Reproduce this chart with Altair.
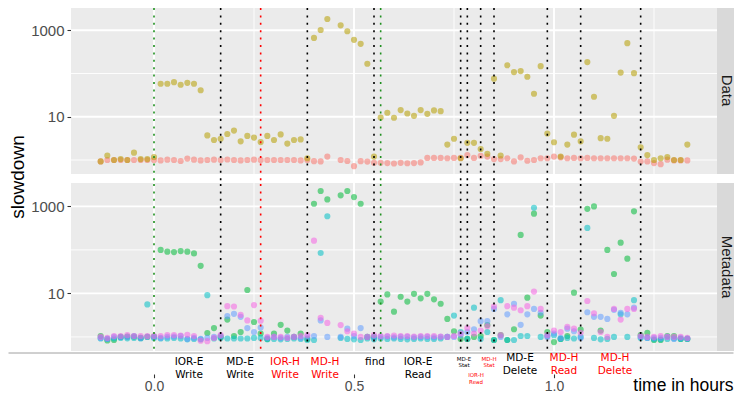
import altair as alt
import pandas as pd

# ---------------- data ----------------
minutes = list(range(-8, 81))  # one sample per minute

data_read = [0.93, 1.0, 1.0, 1.0, 1.0, 1.0, 1.0, 1.0, 1.0,
             0.98, 1.02, 1.0, 0.95, 1.08, 1.02, 0.98, 1.0, 1.02, 1.0,
             1.03, 1.0, 0.98, 1.0, 1.02, 1.0, 1.0, 1.0, 1.0, 1.0,
             1.0, 0.98, 1.0, 0.94, 0.93, 1.2, None, 1.0, 0.95, 0.72,
             0.94, 0.92, 0.86, 0.86, 0.85, 0.83, 0.86, 0.84, 0.85, 0.88,
             1.12, 1.12, 1.12, 1.1, 1.12, 1.12, 1.3, 1.12, 1.25, 1.2,
             1.05, 1.05, 1.1, 0.93, 1.15, 0.96, 1.0, 1.1, 1.1, 1.2,
             1.15, 1.1, 1.12, 1.1, 1.12, 1.1, 1.1, 1.1, 1.1, 1.1,
             1.1, 1.08, 0.92, 0.93, 0.85, 0.8, 1.02, 0.98, 0.98, 0.98]

data_write = [0.93, 1.27, 1.0, 1.05, 1.0, 1.48, 1.05, 1.05, 1.17,
              58, 58, 63, 55, 61, 58, 41, 3.7, 2.9, 3.1,
              4.0, 4.8, 2.7, 3.6, 3.3, 2.6, 3.6, 2.9, 3.9, 2.4,
              2.9, 3.0, 1.1, 665, 1015, 1820, None, 1300, 950, 600,
              485, 168, 1.2, 9.6, 12.4, 9.5, 14.3, 11.9, 10.5, 14.3,
              11.7, 14.0, 13.5, 2.27, 3.1, 1.1, 2.5, 2.5, 1.8, 1.39,
              76, 1.27, 155, 108, 114, 84, 34, 148, 4.1, 2.57,
              1.2, 2.27, 3.85, 2.7, 184, 29, 3.2, 3.1, 10.5, 105,
              502, 102, 1.97, 1.3, 1.0, 1.1, 1.17, 1.0, 1.0, 2.27]

md_create = [1.05, 0.83, 0.85, 1.0, 1.02, 1.02, 0.95, 1.0, 1.02,
             100, 91, 89, 94, 91, 83, 43, 1.23, 1.6, 1.0,
             2.5, 1.05, 1.3, 12, 2.2, 1.2, 0.9, 1.2, 1.9, 1.4,
             1.0, 1.2, 0.9, 1150, 2260, 1450, None, 1800, 2260, 1640,
             1150, 1.0, 1.0, 6.5, 9.5, 3.8, 8.4, 6.5, 9.8, 7.7,
             9.8, 7.3, 5.8, 2.6, 1.35, 0.9, 0.9, 1.0, 1.05, 1.87,
             0.85, 1.1, 0.85, 1.5, 221, 8.0, 680, 3.1, 1.3, 0.76,
             0.9, 1.05, 10.4, 1.48, 880, 1000, 1.4, 100, 28, 147,
             63, 770, 1.1, 1.25, 0.85, 0.85, 1.05, 1.05, 0.9, 0.9]

md_stat = [0.92, 0.9, 0.92, 0.95, 0.93, 0.95, 0.92, 5.6, 0.95,
           0.92, 0.92, 0.95, 0.92, 0.88, 0.9, 0.88, 9.1, 0.92, 0.95,
           0.92, 0.92, 0.92, 0.92, 0.95, 0.95, 0.88, 0.9, 0.88, 0.9,
           0.92, 0.9, 0.85, 0.85, 85, 595, None, 0.95, 0.9, 0.88,
           0.85, 0.92, 0.88, 0.92, 0.9, 0.92, 0.9, 0.88, 0.9, 0.92,
           0.9, 0.9, 0.92, 1.0, 3.1, 1.3, 0.9, 4.7, 0.9, 1.3,
           0.85, 7.0, 0.85, 0.85, 1.05, 1.05, 930, 1.0, 1.05, 1.1,
           0.9, 0.95, 0.92, 1.0, 320, 0.95, 0.88, 0.9, 1.0, 3.3,
           1.0, 7.0, 0.95, 0.95, 0.88, 0.88, 0.9, 0.92, 0.9, 0.9]

md_read = [0.95, 0.9, 1.0, 1.0, 1.0, 1.05, 0.95, 1.0, 1.0,
           0.95, 1.0, 1.02, 1.05, 0.9, 0.95, 0.9, 0.95, 1.0, 1.05,
           3.0, 3.4, 2.9, 1.6, 1.3, 1.65, 0.95, 1.0, 0.95, 1.0,
           1.0, 0.95, 1.0, 1.05, 2.4, 1.0, None, 1.0, 1.55, 1.05,
           1.6, 1.0, 1.0, 1.0, 1.02, 0.98, 1.0, 1.0, 0.98, 1.0,
           1.0, 0.98, 1.0, 1.0, 1.0, 1.1, 1.3, 1.5, 2.3, 2.3,
           4.4, 1.0, 3.3, 5.8, 1.9, 3.3, 4.4, 3.6, 1.0, 1.2,
           0.95, 1.55, 1.35, 0.95, 3.7, 2.9, 2.9, 2.6, 4.2, 3.6,
           3.3, 4.7, 1.0, 0.95, 0.95, 0.95, 1.0, 0.9, 0.95, 0.92]

md_delete = [1.0, 0.95, 1.05, 1.05, 1.1, 1.05, 1.05, 1.05, 1.05,
             1.05, 1.1, 1.1, 1.08, 1.12, 1.05, 0.82, 0.8, 0.95, 1.1,
             5.1, 5.0, 3.2, 2.4, 5.4, 2.35, 1.0, 1.0, 1.0, 0.95,
             1.0, 1.05, 1.1, 163, 2.75, 2.1, None, 1.87, 1.35, 1.2,
             1.0, 1.0, 1.1, 1.05, 1.05, 1.08, 1.05, 1.05, 1.02, 1.05,
             1.05, 1.05, 1.02, 1.0, 1.05, 1.2, 1.6, 1.2, 1.4, 1.76,
             5.0, 1.1, 5.1, 4.7, 4.1, 5.1, 11, 4.4, 1.1, 1.4,
             1.3, 1.7, 1.55, 1.25, 6.7, 3.5, 1.3, 1.0, 4.4, 2.5,
             4.4, 4.4, 1.05, 1.0, 1.0, 1.05, 1.0, 1.0, 1.0, 0.95]

panels = ["Data", "Metadata"]
series_names = ["data read", "data write", "md create", "md stat", "md read", "md delete"]
series_panel = ["Data", "Data", "Metadata", "Metadata", "Metadata", "Metadata"]
series_values = [data_read, data_write, md_create, md_stat, md_read, md_delete]

# phase boundaries (minutes) and their kind
boundary_min = [0, 10, 16, 23, 33, 34, 46, 47, 49, 51, 59, 64, 73]
boundary_kind = ["start", "phase", "hard", "phase", "phase", "start", "phase",
                 "phase", "phase", "phase", "phase", "phase", "phase"]

# phase names shown under the plot
phase_labels_a = ["IOR-E Write", "MD-E Write", "IOR-H Write", "MD-H Write", "find", "IOR-E Read"]
phase_min_a = [5.25, 12.9, 19.65, 25.65, 33.15, 39.6]
phase_labels_b = ["MD-E Delete", "MD-H Read", "MD-H Delete"]
phase_min_b = [54.9, 61.5, 69.15]
small_labels_top = ["MD-E Stat", "MD-H Stat"]
small_min_top = [46.5, 50.25]
small_labels_low = ["IOR-H Read"]
small_min_low = [48.3]

x_ticks = [0.0, 0.5, 1.0]
x_minor = [0.25, 0.75, 1.25]
y_ticks = [10, 1000]
y_minor = [1, 100]

# ---------------- tables ----------------
rows = []
for name, pan, vals in zip(series_names, series_panel, series_values):
    for m, v in zip(minutes, vals):
        if v is not None:
            rows.append({"panel": pan, "series": name, "t": m / 60.0, "value": v})
points = pd.DataFrame(rows)

bounds_df = pd.DataFrame({"t": [m / 60.0 for m in boundary_min], "kind": boundary_kind})


def lab_df(labels, mins):
    return pd.DataFrame({"label": labels, "t": [m / 60.0 for m in mins]})


HUE = ["#F8766D", "#B79F00", "#00BA38", "#00BFC4", "#619CFF", "#F564E3"]
FONT = "Liberation Sans"
W = 646      # plot width
SW = 17      # visible strip width

xs = alt.Scale(domain=[-0.2075, 1.4075], nice=False, zero=False)
ys = alt.Scale(type="log", domain=[0.475, 3450], nice=False)
col = alt.Scale(domain=series_names, range=HUE)

KIND_EXPR = "datum.kind == 'start' ? '#1F8F1F' : (datum.kind == 'hard' ? '#FF0000' : '#000000')"
HARD_EXPR = "indexof(datum.label, '-H') >= 0 ? '#FF0000' : '#000000'"


def make_panel(pname, h, bottom):
    df = points[points["panel"] == pname]
    if bottom:
        xaxis = alt.Axis(values=x_ticks, format=".1f", offset=23, tickSize=3.7, labelPadding=1.3,
                         labelFontSize=14, title="time in hours", titleX=662, titleY=16,
                         titleAlign="right", titleBaseline="alphabetic", titleFontSize=17.5,
                         titleFontWeight="normal", titleColor="#000000", titleFont=FONT)
        yaxis = alt.Axis(values=y_ticks, format="d", tickSize=4, labelPadding=3, title=None)
    else:
        xaxis = None
        yaxis = alt.Axis(values=y_ticks, format="d", tickSize=4, labelPadding=3,
                         title="slowdown", titleX=-47.5, titleY=169.5, titleAngle=270,
                         titleAlign="center", titleBaseline="alphabetic", titleFontSize=19,
                         titleFontWeight="normal", titleColor="#000000", titleFont=FONT)

    X = alt.X("t:Q", scale=xs, axis=xaxis)
    Y = alt.Y("value:Q", scale=ys, axis=yaxis)

    gx_minor = alt.Chart(pd.DataFrame({"t": x_minor})).mark_rule(color="white", strokeWidth=0.9).encode(x=X)
    gx_major = alt.Chart(pd.DataFrame({"t": x_ticks})).mark_rule(color="white", strokeWidth=1.9).encode(x=X)
    gy_minor = alt.Chart(pd.DataFrame({"value": y_minor})).mark_rule(color="white", strokeWidth=0.9).encode(y=Y)
    gy_major = alt.Chart(pd.DataFrame({"value": y_ticks})).mark_rule(color="white", strokeWidth=1.9).encode(y=Y)

    pts = alt.Chart(df).mark_circle(size=38, opacity=0.55).encode(
        x=X, y=Y,
        color=alt.Color("series:N", scale=col, legend=None),
    )
    rules = alt.Chart(bounds_df).transform_calculate(c=KIND_EXPR).mark_rule(
        strokeWidth=1.6, strokeDash=[2, 5.4], strokeCap="butt").encode(
        x=X,
        y=alt.value(1),
        y2=alt.value(h if bottom else h + 9),
        color=alt.Color("c:N", scale=None),
    )
    strip = alt.Chart(pd.DataFrame({"panel": [pname]})).mark_rect(color="#D9D9D9").encode(
        x=alt.value(W), x2=alt.value(W + SW), y=alt.value(0), y2=alt.value(h))
    strip_txt = alt.Chart(pd.DataFrame({"panel": [pname]})).mark_text(
        angle=90, font=FONT, fontSize=15, color="#1A1A1A").encode(
        text="panel:N", x=alt.value(W + 9.5), y=alt.value(h / 2))

    layers = [gx_minor, gx_major, gy_minor, gy_major, pts, rules, strip, strip_txt]

    if bottom:
        sep = alt.Chart(pd.DataFrame({"panel": [pname]})).mark_rule(color="#A0A0A0", strokeWidth=1).encode(
            x=alt.value(-62.5), x2=alt.value(W + SW - 0.5), y=alt.value(h + 2))
        layers.append(sep)

        def text_layer(labels, mins, ytop, size, lh):
            return alt.Chart(lab_df(labels, mins)).transform_calculate(
                lines="split(datum.label, ' ')",
                c=HARD_EXPR,
            ).mark_text(font="DejaVu Sans", fontSize=size, lineHeight=lh, baseline="top", align="center").encode(
                x=X,
                y=alt.value(ytop),
                text="lines:N",
                color=alt.Color("c:N", scale=None),
            )
        layers.append(text_layer(phase_labels_a, phase_min_a, 174, 10.5, 12.5))
        layers.append(text_layer(phase_labels_b, phase_min_b, 170, 10.5, 12.5))
        layers.append(text_layer(small_labels_top, small_min_top, 173.6, 5.5, 6.3))
        layers.append(text_layer(small_labels_low, small_min_low, 189.6, 5.5, 7))

    return alt.layer(*layers).properties(width=W, height=h)


top = make_panel("Data", 167, False)
bot = make_panel("Metadata", 168, True)

chart = alt.vconcat(top, bot, spacing=9, bounds="flush").properties(
    padding={"left": 0, "top": -2, "right": 0, "bottom": 0}
).configure_view(
    stroke=None, fill="#EBEBEB"
).configure_axis(
    labelFont=FONT, labelFontSize=15, labelColor="#4D4D4D",
    tickColor="#333333", tickWidth=1.07, domain=False, grid=False,
)

chart.save("out.html", embed_options={"renderer": "svg", "actions": False})
